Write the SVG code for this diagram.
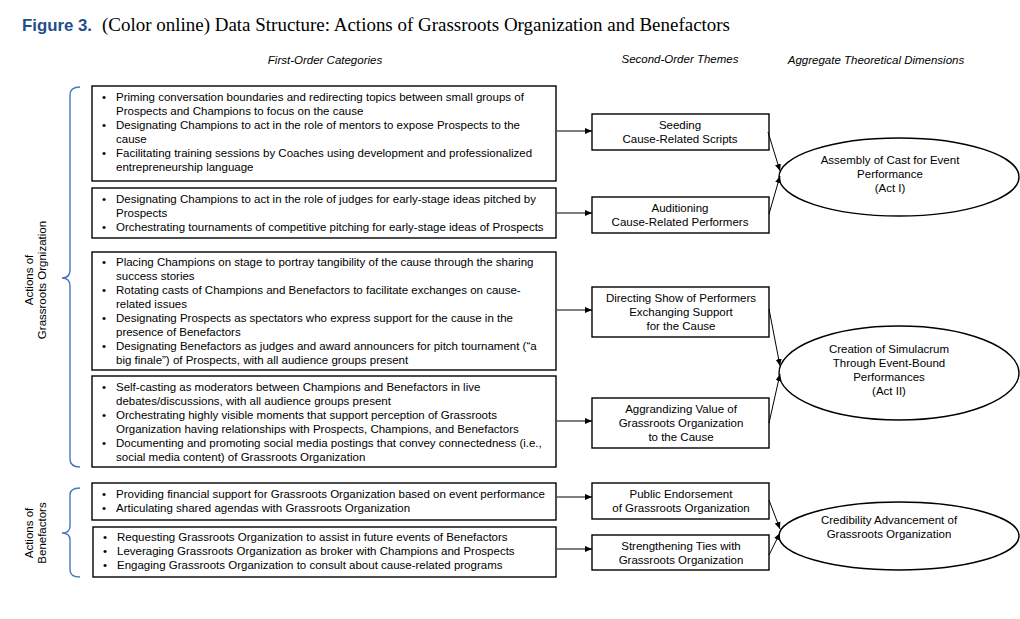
<svg xmlns="http://www.w3.org/2000/svg" width="1020" height="619" viewBox="0 0 1020 619">
<style>
.t{font-family:"Liberation Sans",Arial,sans-serif;font-size:11.5px;fill:#000}
.c{text-anchor:middle}
.h{font-family:"Liberation Sans",Arial,sans-serif;font-size:11.5px;font-style:italic;text-anchor:middle;fill:#000}
.box{fill:#fff;stroke:#000;stroke-width:1.4}
.ell{fill:#fff;stroke:#000;stroke-width:1.4}
.con{stroke:#000;stroke-width:1;fill:none;marker-end:url(#ah)}
.brace{stroke:#4a76c0;stroke-width:1.4;fill:none}
</style>
<defs>
<marker id="ah" markerWidth="8" markerHeight="8" refX="7" refY="4" orient="auto" markerUnits="userSpaceOnUse">
<path d="M0,1 L7,4 L0,7 Z" fill="#000"/>
</marker>
</defs>
<rect width="1020" height="619" fill="#fff"/>
<text x="22" y="31" font-family="Liberation Sans,Arial,sans-serif" font-weight="bold" font-size="17" fill="#1f4e8c" textLength="70" lengthAdjust="spacingAndGlyphs">Figure 3.</text>
<text x="102" y="31" font-family="Liberation Serif,'Times New Roman',serif" font-size="18" textLength="628" lengthAdjust="spacingAndGlyphs">(Color online) Data Structure: Actions of Grassroots Organization and Benefactors</text>
<text class="h" x="325" y="64">First-Order Categories</text>
<text class="h" x="680" y="63">Second-Order Themes</text>
<text class="h" x="876" y="64">Aggregate Theoretical Dimensions</text>

<g id="side-labels">
<path class="brace" d="M80,87 Q70,87 70,95 L70,270 Q70,278 62,278 Q70,278 70,286 L70,459 Q70,467 80,467"/>
<text class="t c" transform="translate(33,280) rotate(-90)">Actions of</text>
<text class="t c" transform="translate(46,280) rotate(-90)">Grassroots Orgnization</text>
<path class="brace" d="M80,488 Q70,488 70,495 L70,526 Q70,533 62,533 Q70,533 70,540 L70,570 Q70,577 80,577"/>
<text class="t c" transform="translate(33,533) rotate(-90)">Actions of</text>
<text class="t c" transform="translate(46,533) rotate(-90)">Benefactors</text>
</g>

<g id="cat1">
<rect class="box" x="92" y="86" width="464" height="95"/>
<text class="t" x="102" y="101">•</text>
<text class="t" x="116" y="101">Priming conversation boundaries and redirecting topics between small groups of</text>
<text class="t" x="116" y="115">Prospects and Champions to focus on the cause</text>
<text class="t" x="102" y="129">•</text>
<text class="t" x="116" y="129">Designating Champions to act in the role of mentors to expose Prospects to the</text>
<text class="t" x="116" y="143">cause</text>
<text class="t" x="102" y="157">•</text>
<text class="t" x="116" y="157">Facilitating training sessions by Coaches using development and professionalized</text>
<text class="t" x="116" y="171">entrepreneurship language</text>
</g>
<g id="cat2">
<rect class="box" x="92" y="188" width="464" height="50"/>
<text class="t" x="102" y="203">•</text>
<text class="t" x="116" y="203">Designating Champions to act in the role of judges for early-stage ideas pitched by</text>
<text class="t" x="116" y="217">Prospects</text>
<text class="t" x="102" y="231">•</text>
<text class="t" x="116" y="231">Orchestrating tournaments of competitive pitching for early-stage ideas of Prospects</text>
</g>
<g id="cat3">
<rect class="box" x="92" y="252" width="464" height="118"/>
<text class="t" x="102" y="266">•</text>
<text class="t" x="116" y="266">Placing Champions on stage to portray tangibility of the cause through the sharing</text>
<text class="t" x="116" y="280">success stories</text>
<text class="t" x="102" y="294">•</text>
<text class="t" x="116" y="294">Rotating casts of Champions and Benefactors to facilitate exchanges on cause-</text>
<text class="t" x="116" y="308">related issues</text>
<text class="t" x="102" y="322">•</text>
<text class="t" x="116" y="322">Designating Prospects as spectators who express support for the cause in the</text>
<text class="t" x="116" y="336">presence of Benefactors</text>
<text class="t" x="102" y="350">•</text>
<text class="t" x="116" y="350">Designating Benefactors as judges and award announcers for pitch tournament (“a</text>
<text class="t" x="116" y="364">big finale”) of Prospects, with all audience groups present</text>
</g>
<g id="cat4">
<rect class="box" x="92" y="376" width="464" height="91"/>
<text class="t" x="102" y="391">•</text>
<text class="t" x="116" y="391">Self-casting as moderators between Champions and Benefactors in live</text>
<text class="t" x="116" y="405">debates/discussions, with all audience groups present</text>
<text class="t" x="102" y="419">•</text>
<text class="t" x="116" y="419">Orchestrating highly visible moments that support perception of Grassroots</text>
<text class="t" x="116" y="433">Organization having relationships with Prospects, Champions, and Benefactors</text>
<text class="t" x="102" y="447">•</text>
<text class="t" x="116" y="447">Documenting and promoting social media postings that convey connectedness (i.e.,</text>
<text class="t" x="116" y="461">social media content) of Grassroots Organization</text>
</g>
<g id="cat5">
<rect class="box" x="92" y="483" width="464" height="37"/>
<text class="t" x="102" y="498">•</text>
<text class="t" x="116" y="498">Providing financial support for Grassroots Organization based on event performance</text>
<text class="t" x="102" y="512">•</text>
<text class="t" x="116" y="512">Articulating shared agendas with Grassroots Organization</text>
</g>
<g id="cat6">
<rect class="box" x="93" y="527" width="463" height="50"/>
<text class="t" x="103" y="541">•</text>
<text class="t" x="117" y="541">Requesting Grassroots Organization to assist in future events of Benefactors</text>
<text class="t" x="103" y="555">•</text>
<text class="t" x="117" y="555">Leveraging Grassroots Organization as broker with Champions and Prospects</text>
<text class="t" x="103" y="569">•</text>
<text class="t" x="117" y="569">Engaging Grassroots Organization to consult about cause-related programs</text>
</g>

<g id="theme1">
<rect class="box" x="592" y="114" width="177" height="36"/>
<text class="t c" x="680" y="129">Seeding</text>
<text class="t c" x="680" y="143">Cause-Related Scripts</text>
</g>
<g id="theme2">
<rect class="box" x="592" y="197" width="177" height="36"/>
<text class="t c" x="680" y="212">Auditioning</text>
<text class="t c" x="680" y="226">Cause-Related Performers</text>
</g>
<g id="theme3">
<rect class="box" x="592" y="287" width="177" height="50"/>
<text class="t c" x="681" y="302">Directing Show of Performers</text>
<text class="t c" x="681" y="316">Exchanging Support</text>
<text class="t c" x="681" y="330">for the Cause</text>
</g>
<g id="theme4">
<rect class="box" x="592" y="398" width="177" height="50"/>
<text class="t c" x="681" y="413">Aggrandizing Value of</text>
<text class="t c" x="681" y="427">Grassroots Organization</text>
<text class="t c" x="681" y="441">to the Cause</text>
</g>
<g id="theme5">
<rect class="box" x="592" y="483" width="177" height="36"/>
<text class="t c" x="681" y="498">Public Endorsement</text>
<text class="t c" x="681" y="512">of Grassroots Organization</text>
</g>
<g id="theme6">
<rect class="box" x="592" y="535" width="177" height="35"/>
<text class="t c" x="681" y="550">Strengthening Ties with</text>
<text class="t c" x="681" y="564">Grassroots Organization</text>
</g>

<g id="dim1">
<ellipse class="ell" cx="899" cy="177" rx="120" ry="39"/>
<text class="t c" x="890" y="164">Assembly of Cast for Event</text>
<text class="t c" x="890" y="178">Performance</text>
<text class="t c" x="890" y="192">(Act I)</text>
</g>
<g id="dim2">
<ellipse class="ell" cx="899" cy="373" rx="120" ry="47"/>
<text class="t c" x="889" y="353">Creation of Simulacrum</text>
<text class="t c" x="889" y="367">Through Event-Bound</text>
<text class="t c" x="889" y="381">Performances</text>
<text class="t c" x="889" y="395">(Act II)</text>
</g>
<g id="dim3">
<ellipse class="ell" cx="899" cy="536" rx="120" ry="34"/>
<text class="t c" x="889" y="524">Credibility Advancement of</text>
<text class="t c" x="889" y="538">Grassroots Organization</text>
</g>

<g id="connectors">
<line class="con" x1="557" y1="131" x2="592" y2="131"/>
<line class="con" x1="557" y1="213" x2="592" y2="213"/>
<line class="con" x1="557" y1="310" x2="592" y2="310"/>
<line class="con" x1="557" y1="421" x2="592" y2="421"/>
<line class="con" x1="557" y1="497" x2="592" y2="497"/>
<line class="con" x1="557" y1="549" x2="592" y2="549"/>
<line class="con" x1="768" y1="132" x2="780" y2="171"/>
<line class="con" x1="769" y1="214" x2="780" y2="176"/>
<line class="con" x1="769" y1="309" x2="780" y2="366"/>
<line class="con" x1="769" y1="423" x2="780" y2="374"/>
<line class="con" x1="769" y1="500" x2="780" y2="529"/>
<line class="con" x1="769" y1="555" x2="780" y2="533"/>
</g>
</svg>
